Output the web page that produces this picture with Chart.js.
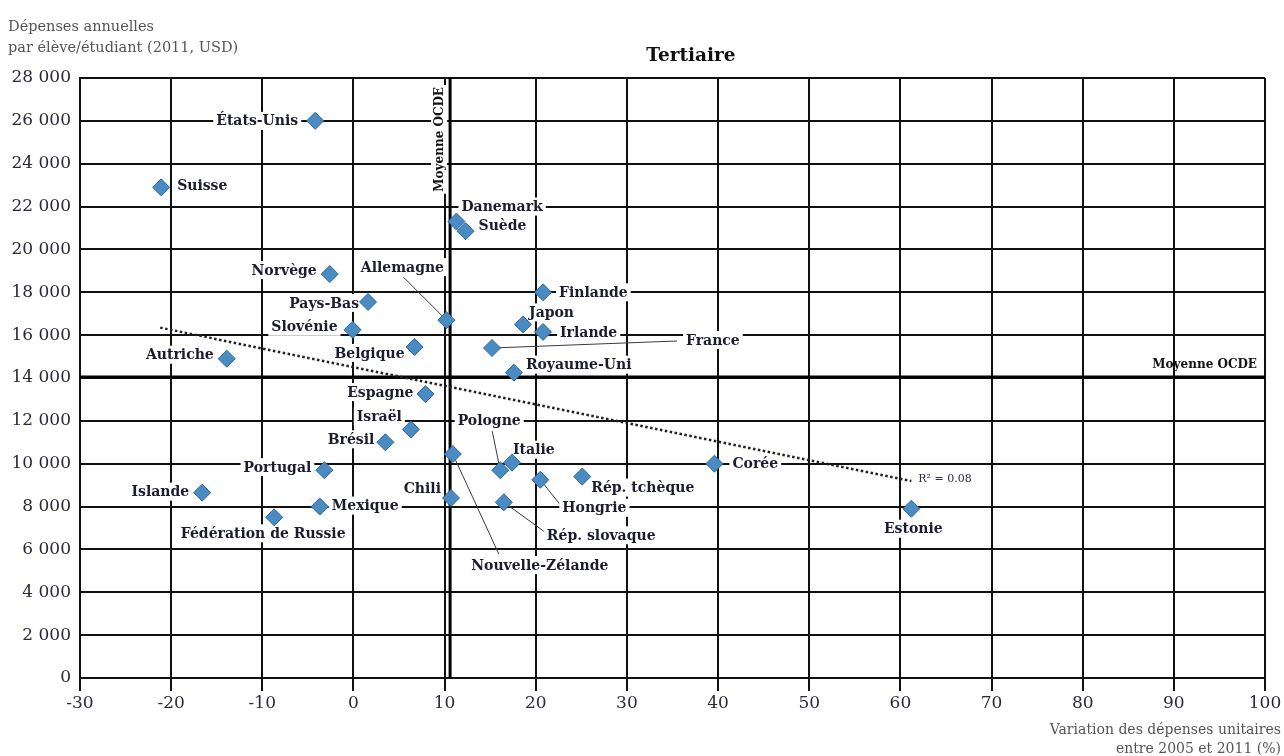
<!DOCTYPE html>
<html>
<head>
<meta charset="utf-8">
<script src="https://cdn.jsdelivr.net/npm/chart.js@4.4.0/dist/chart.umd.min.js"></script>
<style>
  html, body { margin: 0; padding: 0; background: #ffffff; }
  canvas { display: block; }
</style>
</head>
<body>
<canvas id="c" width="1284" height="756"></canvas>
<script>
// ---------- DATA ----------
const countries = ["États-Unis","Suisse","Danemark","Suède","Norvège","Allemagne","Pays-Bas","Slovénie","Belgique","Autriche","Espagne","Finlande","Japon","Irlande","France","Royaume-Uni","Pologne","Italie","Hongrie","Rép. tchèque","Rép. slovaque","Corée","Nouvelle-Zélande","Israël","Brésil","Portugal","Islande","Mexique","Fédération de Russie","Chili","Estonie"];
const variation = [-4.2,-21.1,11.3,12.3,-2.6,10.2,1.6,-0.1,6.7,-13.9,7.9,20.8,18.6,20.8,15.2,17.6,16.1,17.4,20.5,25.1,16.5,39.6,10.9,6.3,3.5,-3.2,-16.6,-3.7,-8.7,10.7,61.2];
const spending  = [26000,22900,21300,20850,18850,16700,17550,16250,15450,14900,13250,18000,16500,16150,15400,14250,9700,10050,9250,9400,8200,10000,10450,11600,11000,9700,8650,8000,7500,8400,7900];
const oecdMeanX = 10.6;
const oecdMeanY = 14050;
const trendX = [-21.2, 61.2];
const trendY = [16350, 9190];
const r2Text = "R² = 0.08";
const xTicks = [-30,-20,-10,0,10,20,30,40,50,60,70,80,90,100];
const yTicks = [0,2000,4000,6000,8000,10000,12000,14000,16000,18000,20000,22000,24000,26000,28000];
const chartTitle = "Tertiaire";
const yTitle = ["Dépenses annuelles", "par élève/étudiant (2011, USD)"];
const xTitle = ["Variation des dépenses unitaires", "entre 2005 et 2011 (%)"];
const meanLabel = "Moyenne OCDE";

// ---------- LABEL LAYOUT (pixel offsets from each point) ----------
const labelLayout = {
  "États-Unis": {a:"right", dx:-17, dy:0},
  "Suisse": {a:"left", dx:16, dy:-2},
  "Danemark": {a:"left", dx:5, dy:-15},
  "Suède": {a:"left", dx:13, dy:-6},
  "Norvège": {a:"right", dx:-13, dy:-4},
  "Allemagne": {a:"center", dx:-44, dy:-53, lx:-43, ly:-43},
  "Pays-Bas": {a:"right", dx:-9, dy:1},
  "Slovénie": {a:"right", dx:-15, dy:-3},
  "Belgique": {a:"right", dx:-10, dy:6},
  "Autriche": {a:"right", dx:-13, dy:-4},
  "Espagne": {a:"right", dx:-12, dy:-2},
  "Finlande": {a:"left", dx:16, dy:0},
  "Japon": {a:"left", dx:6, dy:-12},
  "Irlande": {a:"left", dx:17, dy:0},
  "France": {a:"left", dx:194, dy:-8, lx:185, ly:-7},
  "Royaume-Uni": {a:"left", dx:12, dy:-8},
  "Pologne": {a:"center", dx:-11, dy:-50, lx:-8, ly:-39},
  "Italie": {a:"left", dx:1, dy:-13},
  "Hongrie": {a:"left", dx:22, dy:28, lx:20, ly:25},
  "Rép. tchèque": {a:"left", dx:9, dy:11},
  "Rép. slovaque": {a:"left", dx:43, dy:33, lx:40, ly:29},
  "Corée": {a:"left", dx:18, dy:0},
  "Nouvelle-Zélande": {a:"center", dx:87, dy:111, lx:46, ly:100},
  "Israël": {a:"right", dx:-9, dy:-13},
  "Brésil": {a:"right", dx:-11, dy:-3},
  "Portugal": {a:"right", dx:-13, dy:-3},
  "Islande": {a:"right", dx:-13, dy:-1},
  "Mexique": {a:"left", dx:12, dy:-1},
  "Fédération de Russie": {a:"center", dx:-11, dy:16},
  "Chili": {a:"right", dx:-10, dy:-10},
  "Estonie": {a:"center", dx:2, dy:20}
};

const SERIF = '"DejaVu Serif", "Liberation Serif", serif';
const LABEL_FONT = 'bold 14px ' + SERIF;
const LABEL_COLOR = '#1c1c30';

const points = countries.map((c, i) => ({x: variation[i], y: spending[i], name: c}));
const trend = trendX.map((x, i) => ({x: x, y: trendY[i]}));

function fmtThousands(v) {
  const s = String(Math.abs(v));
  const out = s.replace(/\B(?=(\d{3})+(?!\d))/g, ' ');
  return (v < 0 ? '-' : '') + out;
}

const extras = {
  id: 'extras',
  beforeDatasetsDraw(chart) {
    const ctx = chart.ctx;
    const xs = chart.scales.x, ys = chart.scales.y;
    const area = chart.chartArea;
    ctx.save();
    // leader lines
    ctx.strokeStyle = '#3a3a3a';
    ctx.lineWidth = 1;
    points.forEach(p => {
      const L = labelLayout[p.name];
      if (L && L.lx !== undefined) {
        const px = xs.getPixelForValue(p.x), py = ys.getPixelForValue(p.y);
        ctx.beginPath();
        ctx.moveTo(px + L.lx, py + L.ly);
        ctx.lineTo(px, py);
        ctx.stroke();
      }
    });
    // label boxes and texts
    ctx.font = LABEL_FONT;
    ctx.textBaseline = 'middle';
    points.forEach(p => {
      const L = labelLayout[p.name];
      if (!L) return;
      const px = xs.getPixelForValue(p.x), py = ys.getPixelForValue(p.y);
      const w = ctx.measureText(p.name).width;
      let tx = px + L.dx;
      let left;
      if (L.a === 'right') left = tx - w;
      else if (L.a === 'left') left = tx;
      else left = tx - w / 2;
      const ty = py + L.dy;
      ctx.fillStyle = '#ffffff';
      ctx.fillRect(left - 3, ty - 9, w + 6, 18);
      ctx.fillStyle = LABEL_COLOR;
      ctx.textAlign = 'left';
      ctx.fillText(p.name, left, ty + 1);
    });
    // vertical mean label (rotated)
    const mx = xs.getPixelForValue(oecdMeanX);
    ctx.font = 'bold 12px ' + SERIF;
    const vw = ctx.measureText(meanLabel).width;
    ctx.save();
    ctx.translate(mx - 11, area.top + 9 + vw / 2);
    ctx.rotate(-Math.PI / 2);
    ctx.fillStyle = '#ffffff';
    ctx.fillRect(-vw / 2 - 2, -8, vw + 4, 16);
    ctx.fillStyle = '#111111';
    ctx.textAlign = 'center';
    ctx.textBaseline = 'middle';
    ctx.fillText(meanLabel, 0, 1);
    ctx.restore();
    // horizontal mean label
    const my = ys.getPixelForValue(oecdMeanY);
    ctx.fillStyle = '#111111';
    ctx.textAlign = 'right';
    ctx.textBaseline = 'middle';
    ctx.fillText(meanLabel, area.right - 8, my - 12);
    // mean lines
    ctx.strokeStyle = '#000000';
    ctx.lineWidth = 3;
    ctx.beginPath();
    ctx.moveTo(mx, area.top);
    ctx.lineTo(mx, area.bottom);
    ctx.moveTo(area.left, my);
    ctx.lineTo(area.right, my);
    ctx.stroke();
    ctx.restore();
  },
  afterDraw(chart) {
    const ctx = chart.ctx;
    const xs = chart.scales.x, ys = chart.scales.y;
    ctx.save();
    // title
    ctx.font = 'bold 18.5px ' + SERIF;
    ctx.fillStyle = '#111111';
    ctx.textAlign = 'center';
    ctx.textBaseline = 'middle';
    ctx.fillText(chartTitle, 691, 56);
    // y title
    ctx.font = '14.5px ' + SERIF;
    ctx.fillStyle = '#555555';
    ctx.textAlign = 'left';
    ctx.fillText(yTitle[0], 8, 27);
    ctx.fillText(yTitle[1], 8, 48);
    // x title
    ctx.font = '14px ' + SERIF;
    ctx.textAlign = 'right';
    ctx.fillText(xTitle[0], 1281, 730);
    ctx.fillText(xTitle[1], 1281, 749);
    // R² label
    const ex = xs.getPixelForValue(trendX[1]);
    const ey = ys.getPixelForValue(trendY[1]);
    ctx.font = '11px ' + SERIF;
    ctx.fillStyle = '#2a2a44';
    ctx.textAlign = 'left';
    ctx.fillText(r2Text, ex + 7, ey - 2);
    ctx.restore();
  }
};

new Chart(document.getElementById('c'), {
  type: 'scatter',
  data: {
    datasets: [
      {
        label: 'Pays',
        data: points,
        pointStyle: 'rectRot',
        pointRadius: 8.5,
        pointHoverRadius: 8.5,
        backgroundColor: '#4a8bc4',
        borderColor: '#2f6696',
        borderWidth: 1
      },
      {
        label: 'Tendance',
        type: 'line',
        data: trend,
        showLine: true,
        borderColor: '#222222',
        borderWidth: 2.5,
        borderDash: [2.5, 2.5],
        pointRadius: 0,
        fill: false
      }
    ]
  },
  options: {
    responsive: false,
    devicePixelRatio: 1,
    animation: false,
    events: [],
    layout: { padding: { top: 78, right: 19, left: 0, bottom: 0 } },
    plugins: {
      legend: { display: false },
      title: { display: false },
      tooltip: { enabled: false }
    },
    scales: {
      x: {
        type: 'linear',
        min: -30, max: 100,
        afterBuildTicks: s => { s.ticks = xTicks.map(v => ({value: v})); },
        afterFit: s => { s.height = 78; },
        ticks: {
          callback: v => String(v),
          font: { family: SERIF, size: 17 },
          color: '#2a2a3a',
          padding: 2,
          maxRotation: 0,
          autoSkip: false
        },
        grid: { color: '#111111', lineWidth: 2, tickLength: 13, drawTicks: true },
        border: { display: true, color: '#111111', width: 2 }
      },
      y: {
        type: 'linear',
        min: 0, max: 28000,
        afterBuildTicks: s => { s.ticks = yTicks.map(v => ({value: v})); },
        afterFit: s => { s.width = 80; },
        ticks: {
          callback: v => fmtThousands(v),
          font: { family: SERIF, size: 17 },
          color: '#2a2a3a',
          padding: 9,
          autoSkip: false
        },
        grid: { color: '#111111', lineWidth: 2, drawTicks: false },
        border: { display: true, color: '#111111', width: 2 }
      }
    }
  },
  plugins: [extras]
});
</script>
</body>
</html>
